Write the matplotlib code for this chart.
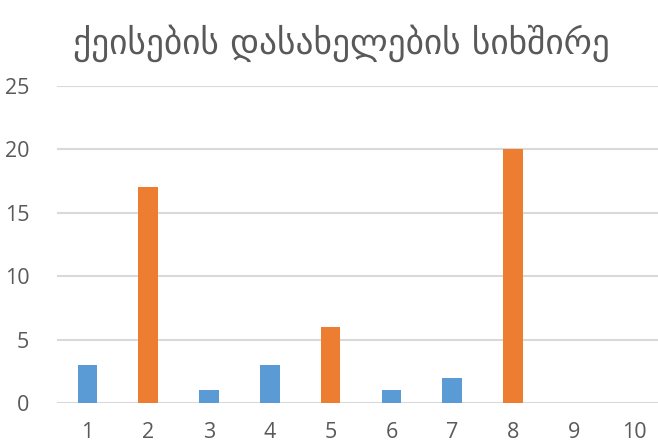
import matplotlib
matplotlib.use("Agg")
import matplotlib.pyplot as plt

categories = ["1", "2", "3", "4", "5", "6", "7", "8", "9", "10"]
values = [3, 17, 1, 3, 6, 1, 2, 20, 0, 0]
highlight = [False, True, False, False, True, False, False, True, False, False]
title = "ქეისების დასახელების სიხშირე"
yticks = [0, 5, 10, 15, 20, 25]

blue = "#5B9BD5"
orange = "#ED7D31"
grid = "#D9D9D9"
text = "#595959"

W, H = 658, 445
fig = plt.figure(figsize=(W / 100, H / 100), dpi=100)
left, right = 57, 665
bottom, top = 403, 86
ax = fig.add_axes([left / W, 1 - bottom / H, (right - left) / W, (bottom - top) / H])

x = list(range(len(categories)))
colors = [orange if h else blue for h in highlight]
ax.bar(x, values, width=0.32, color=colors, zorder=3)

ax.set_xlim(-0.5, len(categories) - 0.5)
ax.set_ylim(0, 25)
ax.set_yticks(yticks)
ax.set_xticks(x)
ax.set_xticklabels(categories)
ax.yaxis.grid(True, color=grid, linewidth=1.5, zorder=0)
ax.set_axisbelow(True)
for s in ax.spines.values():
    s.set_visible(False)
ax.tick_params(axis="both", length=0, labelsize=15.5, colors=text, labelfontfamily="Open Sans")
ax.tick_params(axis="y", pad=20)
ax.tick_params(axis="x", pad=14)

fig.text(341 / W, 1 - 43 / H, title, ha="center", va="center", fontsize=25.5,
         color=text, family=["DejaVu Sans"])

fig.savefig("out.png", dpi=100)
